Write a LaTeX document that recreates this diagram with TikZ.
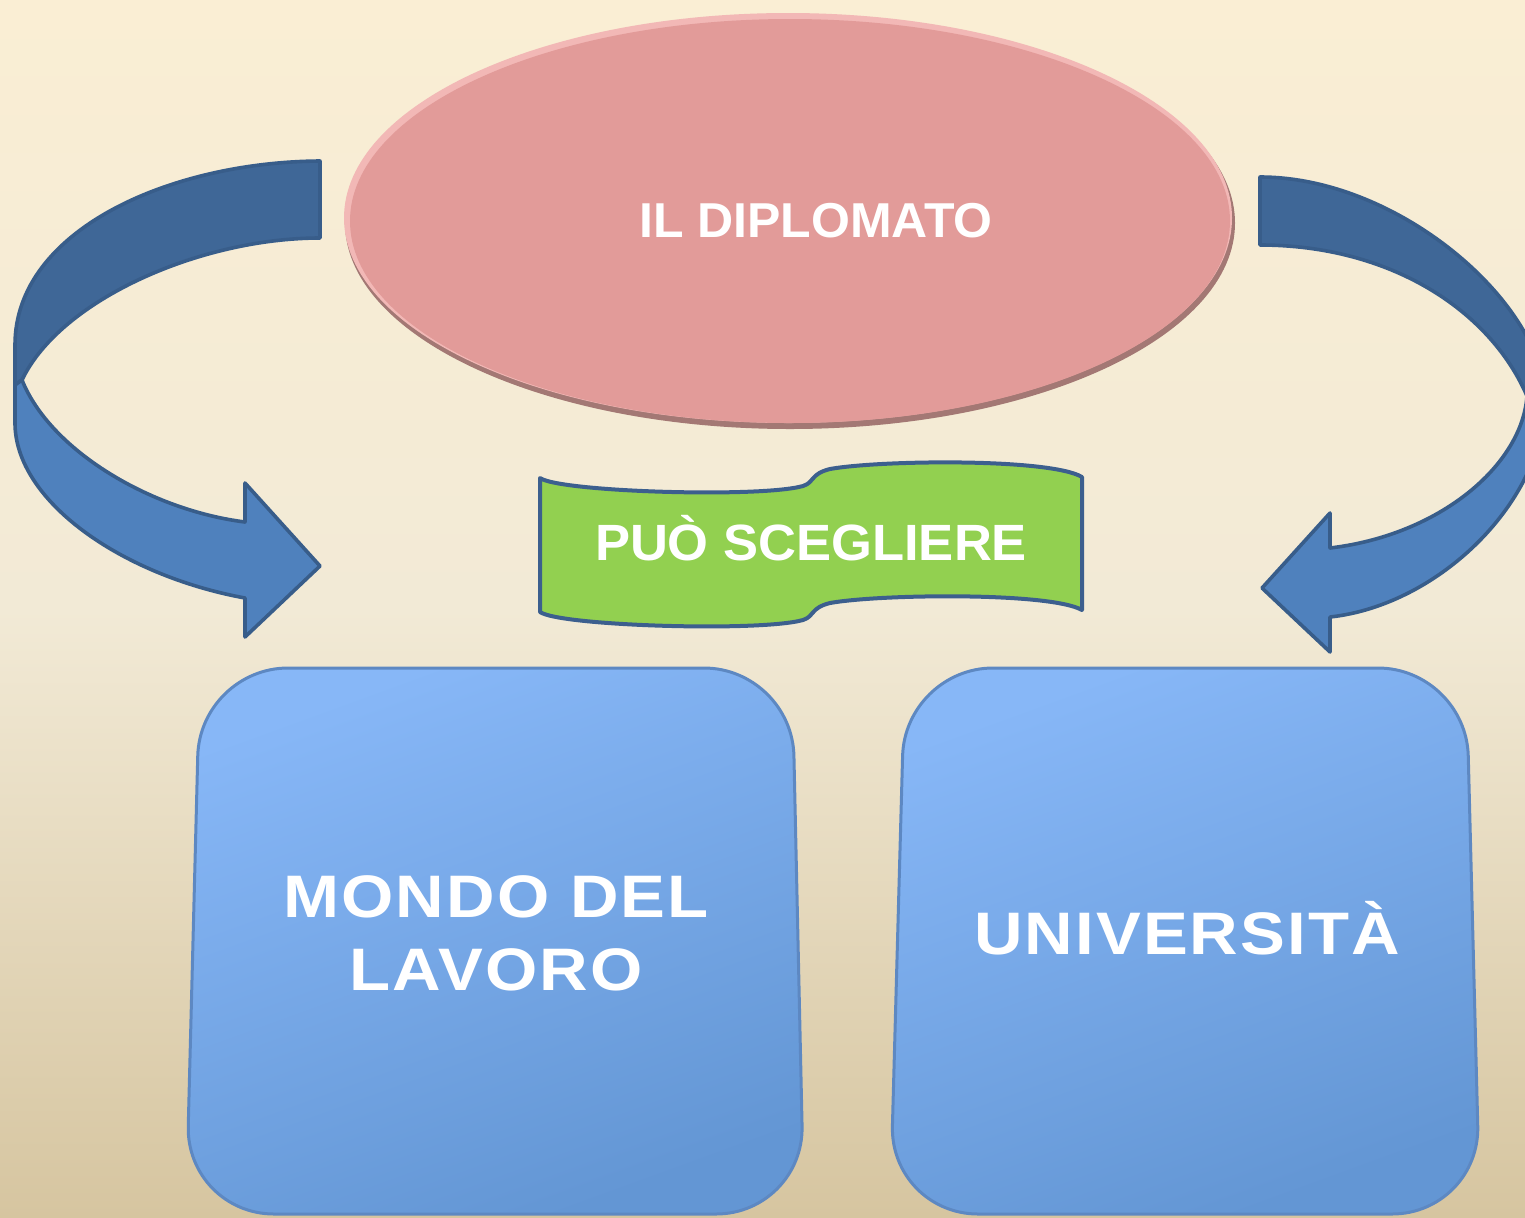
\documentclass[tikz,border=0pt]{standalone}
\usepackage{fontspec}
\setmainfont{Liberation Sans}
\usepackage{tikz}

\definecolor{bgtop}{HTML}{FAEED4}
\definecolor{bgmid}{HTML}{F2EAD6}
\definecolor{bgbot}{HTML}{D6C5A0}
\definecolor{ovalfill}{HTML}{E29B99}
\definecolor{ovalrim}{HTML}{F2B8B6}
\definecolor{ovalshade}{HTML}{A37874}
\definecolor{bandback}{HTML}{3F6797}
\definecolor{bandfront}{HTML}{4F81BD}
\definecolor{bandline}{HTML}{385D8A}
\definecolor{bannerfill}{HTML}{92D050}
\definecolor{bannerline}{HTML}{3C5F8E}
\definecolor{tiletop}{HTML}{87B7F7}
\definecolor{tilebot}{HTML}{6396D4}
\definecolor{tileline}{HTML}{5D88C2}

\begin{document}
\begin{tikzpicture}[x=0.5pt,y=-0.5pt,
  every node/.style={text=white,inner sep=0pt},
  band/.style={draw=bandline,line width=1.8pt,line join=round},
  banner/.style={draw=bannerline,fill=bannerfill,line width=2pt,line join=round},
  tile/.style={draw=tileline,line width=1.5pt,top color=tiletop,bottom color=tilebot,shading angle=20,rounded corners=44pt},
  smalltext/.style={font=\fontsize{24.5}{28}\selectfont\bfseries\addfontfeature{FakeStretch=1.02}},
  tiletext/.style={font=\fontsize{30}{36.5}\selectfont\bfseries\addfontfeature{FakeStretch=1.12,LetterSpace=3.5}}]
\useasboundingbox (0,0) rectangle (1525,1217);
\clip (0,0) rectangle (1525,1217);
\shade[top color=bgtop,bottom color=bgmid] (0,0) rectangle (1525,610);
\shade[top color=bgmid,bottom color=bgbot] (0,609) rectangle (1525,1217);

\fill[ovalshade] (790,223) ellipse (445 and 206);
\fill[ovalrim] (788,218) ellipse (444 and 205);
\fill[ovalfill] (790,221) ellipse (440 and 202);
\node[smalltext,anchor=base] (diplomato) at (816,237) {IL DIPLOMATO};

\path[band,fill=bandback] (320,161) .. controls (170,162) and (15,230) .. (15,345) -- (15,385) -- (22,380)
  .. controls (60,300) and (200,238) .. (320,238) -- cycle;
\path[band,fill=bandfront] (22,380) -- (15,385) -- (15,423) .. controls (15,500) and (120,575) .. (245,598)
  -- (245,637) -- (320,566) -- (245,483) -- (245,522) .. controls (150,510) and (50,450) .. (22,380) -- cycle;

\path[band,fill=bandback] (1260,177) .. controls (1400,177) and (1545,305) .. (1545,400) -- (1527,396)
  .. controls (1490,310) and (1390,245) .. (1260,245) -- cycle;
\path[band,fill=bandfront] (1527,396) -- (1545,400) .. controls (1545,500) and (1440,605) .. (1330,617)
  -- (1330,652) -- (1262,588) -- (1330,513) -- (1330,548) .. controls (1440,535) and (1522,465) .. (1527,396) -- cycle;

\path[banner] (540,478) .. controls (560,492) and (760,498) .. (803,486) .. controls (815,482) and (810,474) .. (830,469)
  .. controls (880,460) and (1050,458) .. (1082,477) -- (1082,610) .. controls (1050,592) and (880,594) .. (830,603)
  .. controls (810,608) and (815,616) .. (803,620) .. controls (760,632) and (560,626) .. (540,612) -- cycle;
\node[font=\fontsize{25.5}{30}\selectfont\bfseries\addfontfeature{FakeStretch=1.03},anchor=base] (scegliere) at (811,560) {PUÒ SCEGLIERE};

\path[tile] (200,668) -- (792,668) -- (804,1214) -- (186,1214) -- cycle;
\path[tile] (905,668) -- (1466,668) -- (1480,1214) -- (890,1214) -- cycle;
\node[tiletext,align=center] (lavoro) at (496,933) {MONDO DEL\\LAVORO};
\node[tiletext,anchor=base] (universita) at (1187,954) {UNIVERSITÀ};
\end{tikzpicture}
\end{document}
